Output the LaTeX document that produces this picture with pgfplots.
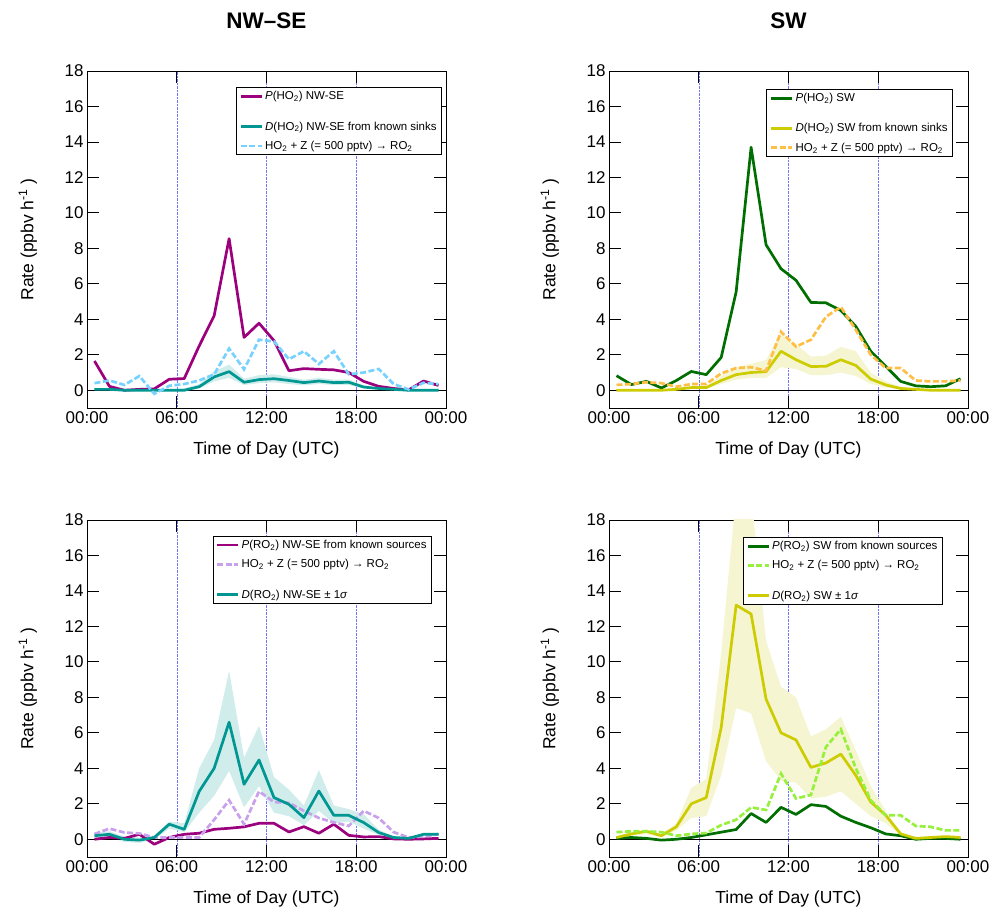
\documentclass[border=0pt]{standalone}
\usepackage{fontspec}
\setmainfont{Liberation Sans}
\usepackage{pgfplots}
\pgfplotsset{compat=1.18}
\usepackage{pgfplotstable}
\usepgfplotslibrary{fillbetween}

\definecolor{cPurple}{RGB}{155,0,125}
\definecolor{cTeal}{RGB}{0,150,145}
\definecolor{cBlue}{RGB}{120,210,255}
\definecolor{cDGreen}{RGB}{0,110,0}
\definecolor{cOlive}{RGB}{204,204,0}
\definecolor{cOrange}{RGB}{255,190,70}
\definecolor{cLav}{RGB}{200,160,235}
\definecolor{cLGreen}{RGB}{150,240,60}
\definecolor{cTealBand}{RGB}{208,236,235}
\definecolor{cOliveBand}{RGB}{245,245,210}

\pgfplotstableread{
h    P     D     lo    hi    Z
0.5  1.65  0.05  0.00  0.10  0.40
1.5  0.22  0.05  0.00  0.10  0.55
2.5  0.00  0.00  0.00  0.05  0.30
3.5  0.05  0.00  0.00  0.05  0.80
4.5  0.08  0.00  0.00  0.05  -0.20
5.5  0.62  0.00  0.00  0.05  0.25
6.5  0.66  0.00  0.00  0.10  0.35
7.5  2.50  0.20  0.10  0.35  0.55
8.5  4.20  0.75  0.50  1.05  0.90
9.5  8.55  1.05  0.70  1.45  2.35
10.5 2.98  0.45  0.30  0.65  1.18
11.5 3.78  0.60  0.40  0.85  2.85
12.5 2.80  0.65  0.45  0.90  2.75
13.5 1.10  0.55  0.35  0.75  1.75
14.5 1.22  0.43  0.28  0.60  2.20
15.5 1.18  0.52  0.35  0.70  1.48
16.5 1.15  0.43  0.30  0.60  2.20
17.5 1.00  0.45  0.30  0.60  0.90
18.5 0.50  0.18  0.10  0.28  1.00
19.5 0.22  0.10  0.05  0.15  1.20
20.5 0.10  0.05  0.00  0.10  0.35
21.5 0.02  0.00  0.00  0.03  0.05
22.5 0.52  0.00  0.00  0.03  0.42
23.5 0.27  0.00  0.00  0.03  0.35
}\tTL

\pgfplotstableread{
h    P     D     lo    hi    Z
0.5  0.82  0.00  0.00  0.05  0.30
1.5  0.32  0.00  0.00  0.05  0.35
2.5  0.50  0.00  0.00  0.05  0.45
3.5  0.13  0.00  0.00  0.05  0.40
4.5  0.55  0.05  0.00  0.10  0.20
5.5  1.06  0.15  0.10  0.25  0.35
6.5  0.88  0.15  0.10  0.25  0.35
7.5  1.85  0.55  0.35  0.80  0.95
8.5  5.55  0.88  0.60  1.30  1.25
9.5  13.7  1.00  0.70  1.50  1.30
10.5 8.20  1.05  0.70  1.70  1.10
11.5 6.85  2.20  1.30  3.30  3.30
12.5 6.20  1.72  1.20  2.60  2.46
13.5 4.95  1.34  0.85  1.90  2.85
14.5 4.93  1.35  0.85  1.95  4.14
15.5 4.50  1.72  1.00  2.45  4.70
16.5 3.60  1.40  0.80  2.20  3.40
17.5 2.20  0.63  0.35  1.00  2.00
18.5 1.35  0.30  0.15  0.50  1.25
19.5 0.50  0.10  0.05  0.20  1.25
20.5 0.25  0.05  0.00  0.10  0.55
21.5 0.20  0.00  0.00  0.05  0.50
22.5 0.25  0.00  0.00  0.05  0.50
23.5 0.65  0.00  0.00  0.05  0.55
}\tTR

\pgfplotstableread{
h    P      D     lo     hi    Z
0.5  0.00   0.20  0.05   0.35  0.30
1.5  0.10   0.28  0.10   0.45  0.60
2.5  0.05   0.00  -0.15  0.15  0.38
3.5  0.28   -0.05 -0.20  0.10  0.33
4.5  -0.28  0.10  0.00   0.20  0.10
5.5  0.10   0.85  0.60   1.00  0.10
6.5  0.28   0.56  0.40   0.90  0.10
7.5  0.34   2.70  1.50   4.00  0.10
8.5  0.56   4.00  2.45   5.60  1.10
9.5  0.62   6.60  3.85   9.50  2.20
10.5 0.70   3.10  1.80   4.60  0.85
11.5 0.90   4.47  3.00   6.40  2.70
12.5 0.90   2.35  1.50   3.50  2.10
13.5 0.41   1.97  1.30   2.80  2.05
14.5 0.71   1.22  0.80   1.90  1.60
15.5 0.34   2.72  1.60   3.90  1.20
16.5 0.85   1.35  0.90   1.90  0.95
17.5 0.22   1.35  1.00   1.70  0.75
18.5 0.13   0.94  0.60   1.40  1.60
19.5 0.15   0.38  0.25   0.55  1.20
20.5 0.02   0.10  0.05   0.15  0.40
21.5 0.00   0.05  0.00   0.10  0.10
22.5 0.02   0.28  0.20   0.35  0.15
23.5 0.05   0.28  0.20   0.35  0.30
}\tBL

\pgfplotstableread{
h    P      D      lo    hi    Z
0.5  0.05   0.10   0.05  0.15  0.40
1.5  0.10   0.30   0.20  0.40  0.45
2.5  0.05   0.45   0.30  0.55  0.45
3.5  -0.05  0.20   0.10  0.30  0.40
4.5  0.00   0.70   0.50  0.90  0.20
5.5  0.10   2.00   1.20  2.90  0.30
6.5  0.25   2.35   1.30  3.40  0.35
7.5  0.40   6.30   3.60  10.5  0.80
8.5  0.55   13.2   7.40  19.5  1.10
9.5  1.45   12.7   7.10  19.5  1.80
10.5 0.95   7.90   4.40  11.2  1.65
11.5 1.80   6.00   3.30  8.60  3.70
12.5 1.40   5.60   3.20  8.00  2.30
13.5 1.95   4.05   2.30  5.80  2.50
14.5 1.85   4.30   2.40  6.20  5.20
15.5 1.30   4.80   2.70  6.90  6.20
16.5 0.95   3.60   2.00  5.00  4.00
17.5 0.65   2.10   1.30  3.00  2.20
18.5 0.30   1.35   0.90  1.60  1.35
19.5 0.20   0.30   0.20  0.40  1.35
20.5 0.00   0.05   0.00  0.10  0.75
21.5 0.05   0.10   0.05  0.15  0.70
22.5 0.05   0.15   0.10  0.20  0.50
23.5 0.00   0.10   0.05  0.15  0.50
}\tBR

\pgfplotsset{
  myaxis/.style={
    scale only axis, width=359pt, height=337pt,
    xmin=0, xmax=24, ymin=-1, ymax=18,
    xtick={0,6,12,18,24}, xticklabels={00:00,06:00,12:00,18:00,00:00},
    ytick={0,2,...,18},
    tick align=inside, major tick length=12pt,
    tick style={black, line width=0.8pt},
    axis line style={line width=0.8pt},
    xmajorgrids, major grid style={color=blue!55, densely dotted, line width=0.5pt},
    tick label style={font=\fontsize{17}{20}\selectfont},
    /pgf/number format/assume math mode=true,
    label style={font=\fontsize{17.5}{21}\selectfont},
    xlabel={Time of Day (UTC)},
    ylabel={Rate (ppbv h\textsuperscript{-1} )},
    xlabel style={at={(axis description cs:0.5,-0.125)}, anchor=center},
    ylabel style={at={(axis description cs:-0.165,0.5)}, anchor=center},
    title style={font=\bfseries\fontsize{22.5}{26}\selectfont, at={(axis description cs:0.5,1.13)}, anchor=center},
    legend style={draw=black, line width=0.8pt, fill=white, font=\fontsize{11.5}{13}\selectfont,
      row sep=5.5pt, anchor=north east},
    legend cell align=left,
    legend image code/.code={\draw[##1] (0pt,0pt) -- (21pt,0pt);},
  },
  ln/.style={line width=2.7pt, line join=round},
  dsh/.style={line width=2.7pt, dash pattern=on 6pt off 2.5pt},
}

\begin{document}
\begin{tikzpicture}

% ---------- top left ----------
\begin{axis}[myaxis, at={(87pt,504pt)}, anchor=south west, title={NW--SE},
  legend style={at={(axis description cs:0.989,0.9525)}}]
\draw[black, line width=0.6pt] (axis cs:0,0) -- (axis cs:24,0);
\addplot[name path=u1, draw=none, forget plot] table[x=h,y=hi]{\tTL};
\addplot[name path=l1, draw=none, forget plot] table[x=h,y=lo]{\tTL};
\addplot[fill=cTealBand, draw=none, forget plot] fill between[of=u1 and l1];
\addplot[ln, cPurple, forget plot] table[x=h,y=P]{\tTL};
\addplot[ln, cTeal, forget plot] table[x=h,y=D]{\tTL};
\addplot[dsh, cBlue, forget plot] table[x=h,y=Z]{\tTL};
\addlegendimage{ln, cPurple}
\addlegendentry{\textit{P}(HO\textsubscript{2}) NW-SE}
\addlegendimage{empty legend}
\addlegendentry{}
\addlegendimage{ln, cTeal}
\addlegendentry{\textit{D}(HO\textsubscript{2}) NW-SE from known sinks}
\addlegendimage{dsh, cBlue}
\addlegendentry{HO\textsubscript{2} + Z (= 500 pptv) → RO\textsubscript{2}}
\end{axis}

% ---------- top right ----------
\begin{axis}[myaxis, at={(609pt,504pt)}, anchor=south west, title={SW},
  legend style={at={(axis description cs:0.958,0.947)}}]
\draw[black, line width=0.6pt] (axis cs:0,0) -- (axis cs:24,0);
\addplot[name path=u2, draw=none, forget plot] table[x=h,y=hi]{\tTR};
\addplot[name path=l2, draw=none, forget plot] table[x=h,y=lo]{\tTR};
\addplot[fill=cOliveBand, draw=none, forget plot] fill between[of=u2 and l2];
\addplot[ln, cDGreen, forget plot] table[x=h,y=P]{\tTR};
\addplot[ln, cOlive, forget plot] table[x=h,y=D]{\tTR};
\addplot[dsh, cOrange, forget plot] table[x=h,y=Z]{\tTR};
\addlegendimage{ln, cDGreen}
\addlegendentry{\textit{P}(HO\textsubscript{2}) SW}
\addlegendimage{empty legend}
\addlegendentry{}
\addlegendimage{ln, cOlive}
\addlegendentry{\textit{D}(HO\textsubscript{2}) SW from known sinks}
\addlegendimage{dsh, cOrange}
\addlegendentry{HO\textsubscript{2} + Z (= 500 pptv) → RO\textsubscript{2}}
\end{axis}

% ---------- bottom left ----------
\begin{axis}[myaxis, at={(87pt,55pt)}, anchor=south west,
  legend style={at={(axis description cs:0.961,0.953)}}]
\draw[black, line width=0.6pt] (axis cs:0,0) -- (axis cs:24,0);
\addplot[name path=u3, draw=none, forget plot] table[x=h,y=hi]{\tBL};
\addplot[name path=l3, draw=none, forget plot] table[x=h,y=lo]{\tBL};
\addplot[fill=cTealBand, draw=none, forget plot] fill between[of=u3 and l3];
\addplot[ln, cPurple, forget plot] table[x=h,y=P]{\tBL};
\addplot[dsh, cLav, forget plot] table[x=h,y=Z]{\tBL};
\addplot[ln, cTeal, forget plot] table[x=h,y=D]{\tBL};
\addlegendimage{ln, cPurple}
\addlegendentry{\textit{P}(RO\textsubscript{2}) NW-SE from known sources}
\addlegendimage{dsh, cLav}
\addlegendentry{HO\textsubscript{2} + Z (= 500 pptv) → RO\textsubscript{2}}
\addlegendimage{empty legend}
\addlegendentry{}
\addlegendimage{ln, cTeal}
\addlegendentry{\textit{D}(RO\textsubscript{2}) NW-SE ± 1\textit{σ}}
\end{axis}

% ---------- bottom right ----------
\begin{axis}[myaxis, at={(609pt,55pt)}, anchor=south west,
  legend style={at={(axis description cs:0.930,0.950)}}]
\draw[black, line width=0.6pt] (axis cs:0,0) -- (axis cs:24,0);
\addplot[name path=u4, draw=none, forget plot] table[x=h,y=hi]{\tBR};
\addplot[name path=l4, draw=none, forget plot] table[x=h,y=lo]{\tBR};
\addplot[fill=cOliveBand, draw=none, forget plot] fill between[of=u4 and l4];
\addplot[ln, cDGreen, forget plot] table[x=h,y=P]{\tBR};
\addplot[ln, cOlive, forget plot] table[x=h,y=D]{\tBR};
\addplot[dsh, cLGreen, forget plot] table[x=h,y=Z]{\tBR};
\addlegendimage{ln, cDGreen}
\addlegendentry{\textit{P}(RO\textsubscript{2}) SW from known sources}
\addlegendimage{dsh, cLGreen}
\addlegendentry{HO\textsubscript{2} + Z (= 500 pptv) → RO\textsubscript{2}}
\addlegendimage{empty legend}
\addlegendentry{}
\addlegendimage{ln, cOlive}
\addlegendentry{\textit{D}(RO\textsubscript{2}) SW ± 1\textit{σ}}
\end{axis}

\pgfresetboundingbox
\path[use as bounding box] (0pt,0pt) rectangle (992pt,912pt);
\end{tikzpicture}
\end{document}
